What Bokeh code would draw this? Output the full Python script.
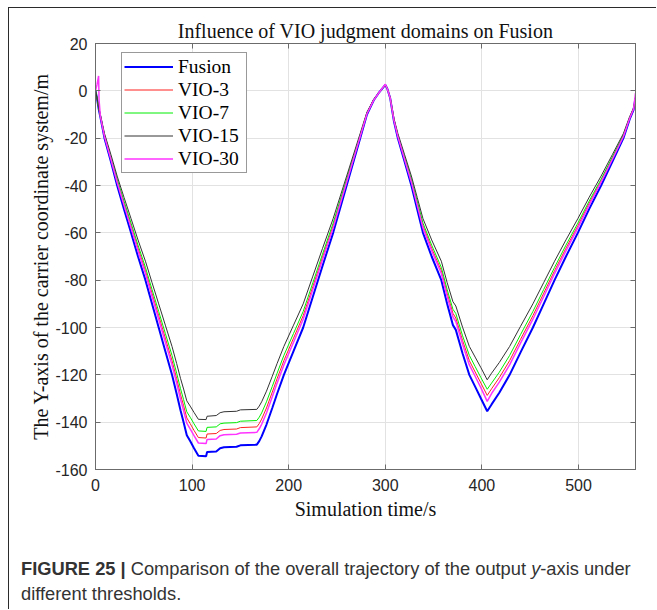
from bokeh.plotting import figure
from bokeh.layouts import column
from bokeh.models import Range1d, LinearAxis, Legend, LegendItem, FixedTicker, Div
from bokeh.embed import file_html
from bokeh.resources import INLINE

# Simulation time (s) sampled along the trajectory
time_s = [0, 1.5, 3.2, 3.7, 5, 9.3, 16, 22.4, 29.5, 36.8,
          44, 51.7, 58.5, 65.4, 72.3, 79.2, 84, 88, 91.2, 94.5,
          98, 102, 106.5, 114.5, 115.5, 125, 129, 133, 146, 150,
          167, 169.5, 172, 177, 183, 188, 195, 205, 215, 225,
          235, 246, 260, 274, 281, 288, 293, 300, 302, 305,
          309, 313, 320, 327, 333, 339, 348, 358, 364, 370,
          373, 380, 387, 393, 399, 405.5, 410, 418, 428.7, 440,
          452.8, 464, 475.2, 487, 499.3, 511, 523.4, 535, 546.5, 553,
          557, 559]

# Y coordinate (m) of each output
fusion = [0, -3, -7.5, -8.5, -11, -20, -30, -40, -50, -60,
          -70, -80, -90, -100, -110, -120, -128, -135, -140, -145.5,
          -148, -151, -154.2, -154.4, -152.6, -152.4, -151, -150.6, -150.4, -149.8,
          -149.5, -148, -146, -141, -134, -128, -120, -110, -100, -87,
          -74, -60, -40, -20, -10, -4, -1, 2.5, 1, -3,
          -13, -20, -30, -40, -50, -60, -70, -80, -90, -99,
          -101, -111, -120, -125, -130, -135.4, -132.5, -127.6, -120, -110.5,
          -100, -90, -80, -70, -60, -50, -40, -30, -20, -12,
          -8, -3]

vio_3 = [0, -2.9, -7.1, -8.1, -10.5, -19, -28.5, -38, -47.5, -57,
         -66.5, -76, -85.5, -95, -104.5, -114, -121.6, -128.3, -133, -138.2,
         -140.6, -143.5, -146.5, -146.7, -145, -144.8, -143.5, -143.1, -142.9, -142.3,
         -142, -140.6, -138.7, -134, -127.3, -121.6, -114, -104.5, -95, -82.7,
         -70.3, -57, -38, -19, -9.5, -3.8, -1, 2.5, 1, -2.9,
         -12.4, -19, -28.5, -38, -47.5, -57, -66.5, -76, -85.5, -94,
         -96, -105.5, -114, -118.8, -123.5, -128.7, -125.9, -121.2, -114, -105,
         -95, -85.5, -76, -66.5, -57, -47.5, -38, -28.5, -19, -11.4,
         -7.6, -2.9]

vio_7 = [0, -2.8, -7, -7.9, -10.3, -18.6, -28, -37.3, -46.6, -55.9,
         -65.2, -74.6, -83.9, -93.2, -102.5, -111.8, -119.3, -125.8, -130.5, -135.6,
         -137.9, -140.7, -143.7, -143.9, -142.2, -142, -140.7, -140.4, -140.2, -139.6,
         -139.3, -137.9, -136.1, -131.4, -124.9, -119.3, -111.8, -102.5, -93.2, -81.1,
         -69, -55.9, -37.3, -18.6, -9.3, -3.7, -0.9, 2.5, 1, -2.8,
         -12.1, -18.6, -28, -37.3, -46.6, -55.9, -65.2, -74.6, -83.9, -92.3,
         -94.1, -103.5, -111.8, -116.5, -121.2, -126.1, -123.5, -118.9, -111.8, -103,
         -93.2, -83.9, -74.6, -65.2, -55.9, -46.6, -37.3, -28, -18.6, -11.2,
         -7.5, -2.8]

vio_15 = [0, -2.7, -6.8, -7.7, -9.9, -18, -27, -36, -45, -54,
          -63, -72, -81, -90, -99, -108, -115.2, -121.5, -126, -131,
          -133.2, -135.9, -138.8, -138.9, -137.5, -137.2, -136, -135.6, -135.4, -134.8,
          -134.6, -133.2, -131.4, -126.9, -120.6, -115.2, -108, -99, -90, -78.3,
          -66.6, -54, -36, -18, -9, -3.6, -0.9, 2.5, 1, -2.7,
          -11.7, -18, -27, -36, -45, -54, -63, -72, -81, -89.1,
          -90.9, -99.9, -108, -112.5, -117, -122.1, -119.3, -114.8, -108, -99.5,
          -90, -81, -72, -63, -54, -45, -36, -27, -18, -10.8,
          -7.2, -3]

vio_30 = [0, 2.5, 6.3, -4, -10.6, -19.3, -29, -38.6, -48.3, -57.9,
          -67.6, -77.2, -86.9, -96.5, -106.2, -115.8, -123.5, -130.3, -135.1, -140.4,
          -142.8, -145.7, -148.8, -149, -147.3, -147.1, -145.7, -145.3, -145.1, -144.6,
          -144.3, -142.8, -140.9, -136.1, -129.3, -123.5, -115.8, -106.2, -96.5, -84,
          -71.4, -57.9, -38.6, -19.3, -9.7, -3.9, -1, 2.8, 1, -2.9,
          -12.5, -19.3, -29, -38.6, -48.3, -57.9, -67.6, -77.2, -86.9, -95.5,
          -97.5, -107.1, -115.8, -120.6, -125.5, -131.2, -127.9, -123.1, -115.8, -106.6,
          -96.5, -86.9, -77.2, -67.6, -57.9, -48.3, -38.6, -29, -19.3, -11.6,
          -7.7, -1]

series_names = ["Fusion", "VIO-3", "VIO-7", "VIO-15", "VIO-30"]
x_ticks = [0, 100, 200, 300, 400, 500]
y_ticks = [-160, -140, -120, -100, -80, -60, -40, -20, 0, 20]
y_tick_text = ["-160", "-140", "-120", "-100", "-80", "-60", "-40", "-20", "0", "20"]

AX = "#6b6b6b"
TICK_TXT = "#262626"
FIG_W = 647

# ---------------- main chart ----------------
p = figure(width=FIG_W, height=521, output_backend="svg", toolbar_location=None,
           x_range=Range1d(0, 559), y_range=Range1d(-160, 20),
           min_border_left=86, min_border_right=21,
           min_border_top=35, min_border_bottom=60,
           title="Influence of VIO judgment domains on Fusion")
p.title.align = "center"
p.title.text_font = "Liberation Serif"
p.title.text_font_size = "20px"
p.title.text_font_style = "normal"
p.title.text_color = "#111111"
p.title.standoff = 4
p.background_fill_color = "white"
p.border_fill_color = "white"
p.outline_line_color = AX
p.outline_line_width = 1

p.xgrid.ticker = FixedTicker(ticks=x_ticks)
p.ygrid.ticker = FixedTicker(ticks=y_ticks)
for g in (p.xgrid, p.ygrid):
    g.grid_line_color = "#e2e2e2"
    g.grid_line_width = 1


def style_axis(ax, ticks, labels=True):
    ax.ticker = FixedTicker(ticks=ticks)
    ax.major_tick_in = 5
    ax.major_tick_out = 0
    ax.minor_tick_line_color = None
    ax.axis_line_color = AX
    ax.major_tick_line_color = AX
    if labels:
        ax.major_label_text_font = "Liberation Sans"
        ax.major_label_text_font_size = "16px"
        ax.major_label_text_color = TICK_TXT
        ax.axis_label_text_font = "Liberation Serif"
        ax.axis_label_text_font_size = "20px"
        ax.axis_label_text_font_style = "normal"
        ax.axis_label_text_color = "#111111"
    else:
        ax.major_label_overrides = {t: "" for t in ticks}
        ax.major_label_standoff = 0


style_axis(p.xaxis[0], x_ticks)
p.xaxis[0].axis_label = "Simulation time/s"
p.xaxis[0].major_label_standoff = 9
p.xaxis[0].axis_label_standoff = 4

style_axis(p.yaxis[0], y_ticks)
p.yaxis[0].major_label_overrides = dict(zip(y_ticks, y_tick_text))
p.yaxis[0].axis_label = "The Y-axis of the carrier coordinate system/m"
p.yaxis[0].major_label_standoff = 8
p.yaxis[0].axis_label_standoff = 0

top_axis = LinearAxis()
style_axis(top_axis, x_ticks, labels=False)
p.add_layout(top_axis, "above")
right_axis = LinearAxis()
style_axis(right_axis, y_ticks, labels=False)
p.add_layout(right_axis, "right")

styles = [("#0000FF", 2.0), ("#FF2020", 1.0), ("#00EE00", 1.0),
          ("#333333", 1.0), ("#FF33FF", 1.5)]
values = [fusion, vio_3, vio_7, vio_15, vio_30]
renderers = []
for vals, (col, lw) in zip(values, styles):
    renderers.append(p.line(time_s, vals, line_color=col, line_width=lw))

legend = Legend(items=[LegendItem(label=n, renderers=[r])
                       for n, r in zip(series_names, renderers)],
                location=(26, 296))
legend.label_text_font = "Liberation Serif"
legend.label_text_font_size = "19.5px"
legend.label_text_color = "#000000"
legend.glyph_width = 49
legend.glyph_height = 23
legend.label_height = 23
legend.label_width = 66
legend.label_standoff = 5
legend.spacing = 0
legend.padding = 2
legend.margin = 0
legend.border_line_color = "#333333"
legend.border_line_width = 1
legend.background_fill_color = "white"
legend.background_fill_alpha = 1
p.add_layout(legend)

# ---------------- caption ----------------
caption_html = (
    '<div style="font-family:\'Liberation Sans\',Arial,sans-serif; font-size:18.3px; '
    'line-height:25px; color:#333333; white-space:nowrap; '
    'padding:27px 0 0 12px;">'
    '<b>FIGURE 25 |</b> Comparison of the overall trajectory of the output '
    '<i>y</i>-axis under<br>different thresholds.</div>'
)
cap = Div(text=caption_html, width=FIG_W, height=80, margin=0)

layout = column(p, cap, spacing=0, margin=(7, 0, 0, 8),
                styles={"border-left": "1.5px solid #2b2b2b",
                        "border-top": "1.5px solid #2b2b2b"})

open("out.html", "w").write(file_html(layout, INLINE))
